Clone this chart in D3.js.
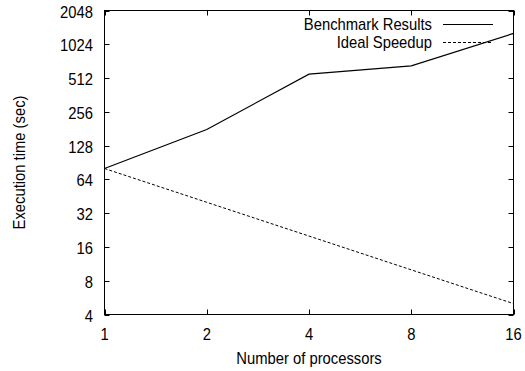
<!DOCTYPE html>
<html><head><meta charset="utf-8">
<script src="https://cdn.jsdelivr.net/npm/d3@7"></script>
<style>body{margin:0;background:#fff}svg{display:block}text{font-family:"Liberation Sans",Arial,sans-serif;fill:#000}</style>
</head><body><svg id="c" width="525" height="371"></svg>
<script>
const processors = [1, 2, 4, 8, 16];
const benchmark = [80, 178, 555, 658, 1280];
const ideal = [80, 40, 20, 10, 5];
const yTicks = [4, 8, 16, 32, 64, 128, 256, 512, 1024, 2048];
const xTicks = [1, 2, 4, 8, 16];
const seriesNames = ["Benchmark Results", "Ideal Speedup"];

const L = 104.5, R = 513.5, T = 10.5, B = 314.5;
const svg = d3.select("#c");
const x = d3.scaleLog().base(2).domain([1, 16]).range([L, R]);
const y = d3.scaleLog().base(2).domain([4, 2048]).range([B, T]);
const fs = 17, sx = 0.87, tl = 5;

function label(px, py, txt, anchor, rot) {
  return svg.append("text")
    .attr("transform", `translate(${px},${py})${rot ? " rotate(" + rot + ")" : ""} scale(${sx},1)`)
    .attr("text-anchor", anchor).attr("font-size", fs).text(txt);
}

// frame
svg.append("rect").attr("x", L).attr("y", T).attr("width", R - L).attr("height", B - T)
  .attr("fill", "none").attr("stroke", "#000").attr("stroke-width", 1);

// y ticks (left + mirrored right)
const gy = svg.append("g");
yTicks.forEach(v => {
  const yy = Math.round(y(v)) + 0.5;
  gy.append("line").attr("x1", L).attr("x2", L + tl).attr("y1", yy).attr("y2", yy).attr("stroke", "#000");
  gy.append("line").attr("x1", R).attr("x2", R - tl).attr("y1", yy).attr("y2", yy).attr("stroke", "#000");
  label(93, y(v) + 7, v, "end");
});
// x ticks (bottom + mirrored top)
const gx = svg.append("g");
xTicks.forEach(v => {
  const xx = Math.round(x(v)) + 0.5;
  gx.append("line").attr("x1", xx).attr("x2", xx).attr("y1", B).attr("y2", B - tl).attr("stroke", "#000");
  gx.append("line").attr("x1", xx).attr("x2", xx).attr("y1", T).attr("y2", T + tl).attr("stroke", "#000");
  label(x(v), 340, v, "middle");
});

// axis labels
label((L + R) / 2, 363.5, "Number of processors", "middle");
label(25, (T + B) / 2, "Execution time (sec)", "middle", -90);

// lines
const line = d3.line().x((d, i) => x(processors[i])).y(d => y(d));
svg.append("path").datum(benchmark).attr("d", line).attr("fill", "none")
  .attr("stroke", "#000").attr("stroke-width", 1.2);
svg.append("path").datum(ideal).attr("d", line).attr("fill", "none")
  .attr("stroke", "#000").attr("stroke-width", 1).attr("stroke-dasharray", "3,2");

// legend
const leg = [{name: seriesNames[0], y: 24.5, dash: null, w: 1.2}, {name: seriesNames[1], y: 42.5, dash: "3,2", w: 1}];
leg.forEach(d => {
  label(432, d.y + 5.8, d.name, "end");
  svg.append("line").attr("x1", 443).attr("x2", 493).attr("y1", d.y).attr("y2", d.y)
    .attr("stroke", "#000").attr("stroke-width", d.w).attr("stroke-dasharray", d.dash);
});
</script></body></html>
